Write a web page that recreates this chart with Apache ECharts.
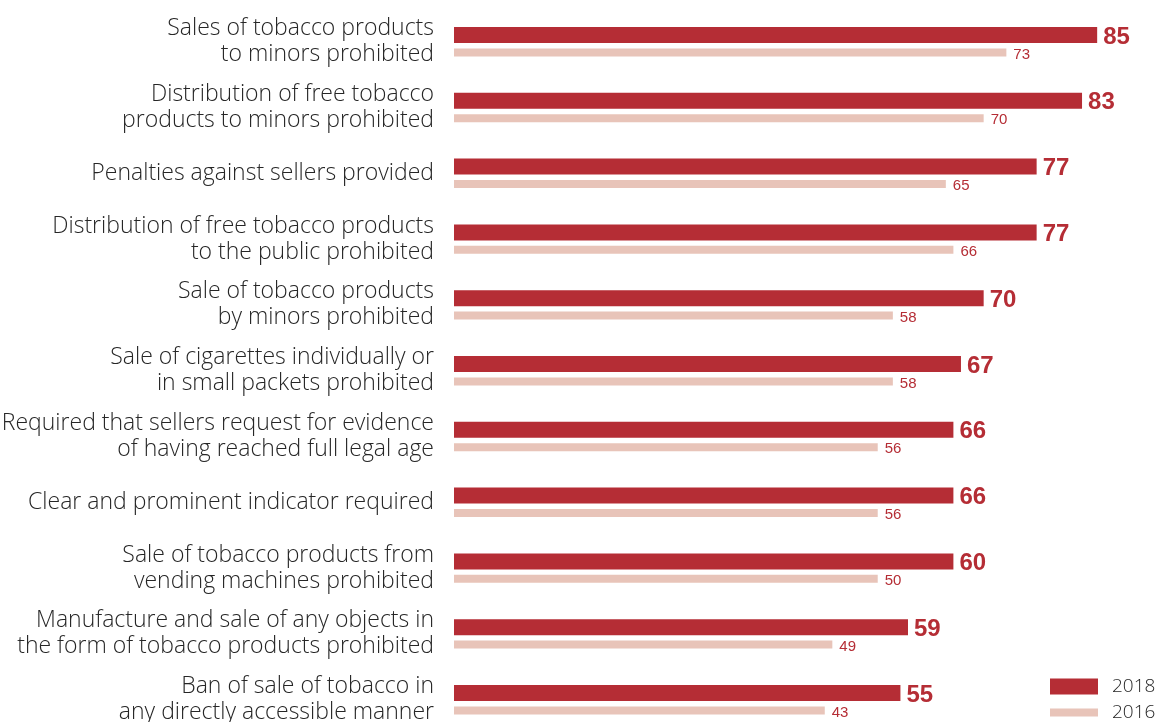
<!DOCTYPE html>
<html>
<head>
<meta charset="utf-8">
<script src="https://cdn.jsdelivr.net/npm/echarts@6/dist/echarts.min.js"></script>
<style>
html,body{margin:0;padding:0;background:#fff;}
#chart{width:1160px;height:722px;}
</style>
</head>
<body>
<div id="chart"></div>
<script>
const categories = [
  "Sales of tobacco products\nto minors prohibited",
  "Distribution of free tobacco\nproducts to minors prohibited",
  "Penalties against sellers provided",
  "Distribution of free tobacco products\nto the public prohibited",
  "Sale of tobacco products\nby minors prohibited",
  "Sale of cigarettes individually or\nin small packets prohibited",
  "Required that sellers request for evidence\nof having reached full legal age",
  "Clear and prominent indicator required",
  "Sale of tobacco products from\nvending machines prohibited",
  "Manufacture and sale of any objects in\nthe form of tobacco products prohibited",
  "Ban of sale of tobacco in\nany directly accessible manner"
];
// printed values
const labels2018 = [85, 83, 77, 77, 70, 67, 66, 66, 60, 59, 55];
const labels2016 = [73, 70, 65, 66, 58, 58, 56, 56, 50, 49, 43];
// bar lengths as drawn in the picture
const bars2018 = [85, 83, 77, 77, 70, 67, 66, 66, 66, 60, 59];
const bars2016 = [73, 70, 65, 66, 58, 58, 56, 56, 56, 50, 49];

const red = '#b52d35';
const pink = '#e8c4b9';
const chart = echarts.init(document.getElementById('chart'));
chart.setOption({
  animation: false,
  grid: { left: 454, top: 8.8, height: 723.8, width: 681, containLabel: false, outerBoundsMode: 'none' },
  xAxis: { type: 'value', min: 0, max: 90, show: false },
  yAxis: {
    type: 'category', data: categories, inverse: true,
    axisLine: { show: false }, axisTick: { show: false }, splitLine: { show: false },
    axisLabel: {
      margin: 20, fontSize: 23, lineHeight: 26, color: '#262626', fontWeight: 300,
      fontFamily: 'Open Sans, Liberation Sans, Arial, sans-serif', align: 'right',
      padding: [0, 0, 4, 0]
    }
  },
  legend: [
    { data: ['2018'], left: 1050, top: 677, padding: 0, itemWidth: 48, itemHeight: 16, icon: 'rect',
      textStyle: { fontSize: 19, color: '#262626', fontWeight: 300, fontFamily: 'Open Sans, Liberation Sans, Arial, sans-serif', padding: [0, 0, 0, 9] } },
    { data: ['2016'], left: 1050, top: 703, padding: 0, itemWidth: 48, itemHeight: 8, icon: 'rect',
      textStyle: { fontSize: 19, color: '#262626', fontWeight: 300, fontFamily: 'Open Sans, Liberation Sans, Arial, sans-serif', padding: [0, 0, 0, 9] } }
  ],
  series: [
    { name: '2018', type: 'bar', data: bars2018, barWidth: 16, barGap: '34%',
      itemStyle: { color: red },
      label: { show: true, position: 'right', distance: 6, fontSize: 24, fontWeight: 'bold', color: red,
        fontFamily: 'Liberation Sans, Arial, sans-serif', offset: [0, 2],
        formatter: p => String(labels2018[p.dataIndex]) } },
    { name: '2016', type: 'bar', data: bars2016, barWidth: 8,
      itemStyle: { color: pink },
      label: { show: true, position: 'right', distance: 7, fontSize: 15, color: red,
        fontFamily: 'Liberation Sans, Arial, sans-serif', offset: [0, 2],
        formatter: p => String(labels2016[p.dataIndex]) } }
  ]
});
</script>
</body>
</html>
